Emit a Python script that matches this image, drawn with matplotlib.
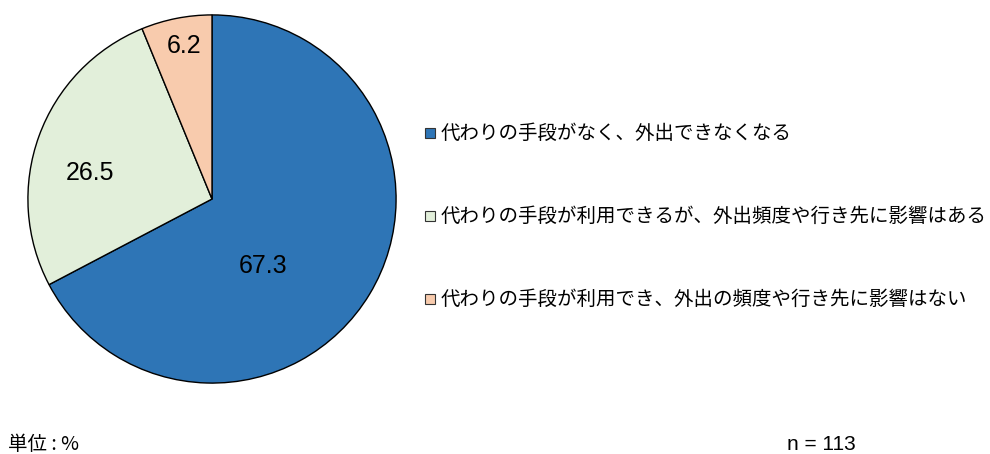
import matplotlib
matplotlib.use("Agg")
import matplotlib.pyplot as plt
from matplotlib.patches import Rectangle

plt.rcParams['font.family'] = ['Noto Sans CJK JP', 'DejaVu Sans']

categories = ["代わりの手段がなく、外出できなくなる",
              "代わりの手段が利用できるが、外出頻度や行き先に影響はある",
              "代わりの手段が利用でき、外出の頻度や行き先に影響はない"]
values = [67.3, 26.5, 6.2]
colors = ["#2E75B6", "#E2EFDA", "#F8CBAD"]
label_pos = [(0.278, -0.362), (-0.662, 0.143), (-0.151, 0.832)]

W, H = 990, 454
fig = plt.figure(figsize=(W / 100, H / 100), dpi=100)
ax = fig.add_axes([27 / W, (H - 384) / H, 370 / W, 370 / H])
ax.pie(values, colors=colors, startangle=90, counterclock=False,
       radius=1, wedgeprops=dict(edgecolor="black", linewidth=1.0))
ax.set_xlim(-1.005, 1.005)
ax.set_ylim(-1.005, 1.005)
ax.set_aspect("equal")
ax.axis("off")
for v, (x, y) in zip(values, label_pos):
    ax.text(x, y, f"{v:.1f}", ha="center", va="center", fontsize=18,
            family=["Liberation Sans", "DejaVu Sans"])

ys = [133, 216, 299]
for cat, col, y in zip(categories, colors, ys):
    fig.patches.append(Rectangle((425 / W, (H - y - 5) / H), 10 / W, 10 / H,
                                 transform=fig.transFigure, facecolor=col,
                                 edgecolor="#333333", linewidth=0.8))
    fig.text(441 / W, (H - y) / H, cat, ha="left", va="center", fontsize=14)

fig.text(8 / W, (H - 445) / H, "単位 : %", ha="left", va="center", fontsize=14)
fig.text(787 / W, (H - 444) / H, "n = 113", ha="left", va="center", fontsize=15,
         family=["Liberation Sans", "DejaVu Sans"])

fig.savefig("out.png", dpi=100)
